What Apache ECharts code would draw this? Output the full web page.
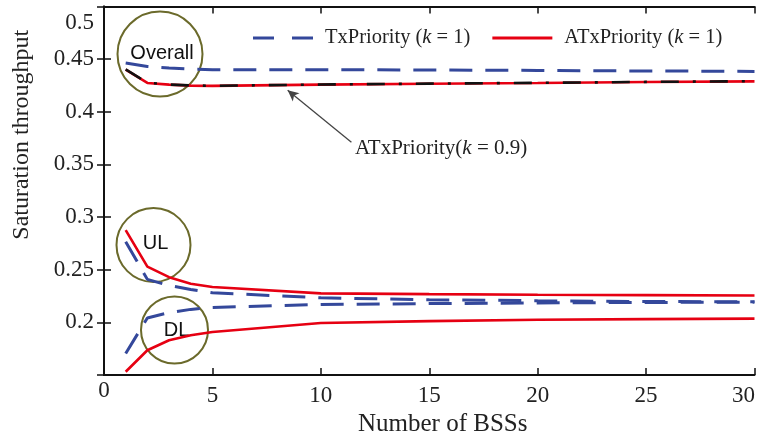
<!DOCTYPE html>
<html>
<head>
<meta charset="utf-8">
<script src="https://cdn.jsdelivr.net/npm/echarts@6/dist/echarts.min.js"></script>
<style>
  html, body { margin: 0; padding: 0; background: #fff; }
  #chart { width: 758px; height: 442px; }
</style>
</head>
<body>
<div id="chart"></div>
<script>
// number of BSSs
const xBss = [1, 2, 3, 4, 5, 10, 15, 20, 25, 30];

// TxPriority (k = 1)
const txOverall = [0.4462, 0.4430, 0.4415, 0.4405, 0.4399, 0.4399, 0.4396, 0.4392, 0.4387, 0.4383];
const txUL = [0.2766, 0.2408, 0.2350, 0.2312, 0.2281, 0.2233, 0.2215, 0.2205, 0.2198, 0.2195];
const txDL = [0.1704, 0.2042, 0.2092, 0.2123, 0.2142, 0.2170, 0.2178, 0.2184, 0.2189, 0.2192];

// ATxPriority (k = 1)
const atxOverall = [0.4399, 0.4273, 0.4257, 0.4248, 0.4245, 0.4257, 0.4266, 0.4273, 0.4282, 0.4288];
const atxUL = [0.2876, 0.2529, 0.2429, 0.2366, 0.2335, 0.2275, 0.2268, 0.2262, 0.2258, 0.2255];
const atxDL = [0.1531, 0.1735, 0.1830, 0.1877, 0.1909, 0.1994, 0.2012, 0.2024, 0.2031, 0.2035];

// ATxPriority (k = 0.9), overall only
const atx09Overall = [0.4402, 0.4276, 0.4258, 0.4249, 0.4246, 0.4258, 0.4267, 0.4274, 0.4283, 0.4290];

const xTicks = [0, 5, 10, 15, 20, 25, 30];
const yTicks = [0.2, 0.25, 0.3, 0.35, 0.4, 0.45, 0.5];

const BLUE = '#34489b';
const RED = '#e60012';
const OLIVE = '#6b6a2b';
const SERIF = '"Liberation Serif", "Times New Roman", serif';
const SANS = '"Liberation Sans", Arial, sans-serif';

const pts = arr => xBss.map((x, i) => [x, arr[i]]);

const chart = echarts.init(document.getElementById('chart'));

const blueLine = { color: BLUE, width: 3, type: [23, 13] };
const redLine = { color: RED, width: 2.6 };

function blue(data) {
  return {
    name: 'TxPriority (k = 1)', type: 'line', data: pts(data),
    symbol: 'none', lineStyle: blueLine, itemStyle: { color: BLUE }
  };
}
function red(data) {
  return {
    name: 'ATxPriority (k = 1)', type: 'line', data: pts(data),
    symbol: 'none', lineStyle: redLine, itemStyle: { color: RED }
  };
}

const option = {
  animation: false,
  grid: { left: 104, right: 2, top: 6.4, bottom: 65.5 },
  legend: {
    data: [
      { name: 'TxPriority (k = 1)', icon: 'path://M0,0H21V3H0Z M39,0H60V3H39Z' },
      { name: 'ATxPriority (k = 1)', icon: 'path://M0,0H62V3H0Z' }
    ],
    left: 253,
    top: 27,
    padding: 0,
    itemWidth: 60,
    itemHeight: 3,
    itemGap: 22,
    formatter: name => name.replace(' (k', ' ({i|k}'),
    textStyle: {
      fontFamily: SERIF, fontSize: 20.5, color: '#222', lineHeight: 22,
      padding: [0, 0, 0, 7],
      rich: { i: { fontFamily: SERIF, fontSize: 20.5, fontStyle: 'italic', color: '#222' } }
    }
  },
  xAxis: [
    {
      type: 'value', min: 0, max: 30, interval: 5,
      name: 'Number of BSSs', nameLocation: 'middle', nameGap: 37,
      nameTextStyle: { fontFamily: SERIF, fontSize: 25, color: '#222', padding: [0, 0, 0, 27] },
      axisLine: { lineStyle: { color: '#111', width: 2 } },
      axisTick: { inside: true, length: 7, lineStyle: { color: '#111', width: 1.5 } },
      splitLine: { show: false },
      axisLabel: {
        margin: 9, fontFamily: SERIF, fontSize: 23, color: '#222',
        formatter: v => v === xTicks[0] ? '{z|0}' : (v === 30 ? '{r|30}' : String(v)),
        rich: {
          z: { fontFamily: SERIF, fontSize: 23, color: '#222', lineHeight: 13 },
          r: { fontFamily: SERIF, fontSize: 23, color: '#222', padding: [0, 22, 0, 0] }
        }
      }
    },
    {
      type: 'value', min: 0, max: 30, interval: 5, position: 'top',
      axisLine: { lineStyle: { color: '#111', width: 2 } },
      axisTick: { inside: true, length: 7, lineStyle: { color: '#111', width: 1.5 } },
      axisLabel: { show: false },
      splitLine: { show: false }
    }
  ],
  yAxis: [
    {
      type: 'value', min: 0.15, max: 0.5, interval: 0.05,
      name: 'Saturation throughput', nameLocation: 'middle', nameGap: 70, nameRotate: 90,
      nameTextStyle: { fontFamily: SERIF, fontSize: 24, color: '#222', padding: [0, 0, 0, 112] },
      axisLine: { lineStyle: { color: '#111', width: 2 } },
      axisTick: { inside: true, length: 7, lineStyle: { color: '#111', width: 1.5 } },
      splitLine: { show: false },
      axisLabel: {
        margin: 10, fontFamily: SERIF, fontSize: 23, color: '#222',
        showMinLabel: false,
        formatter: v => {
          const s = String(+v.toFixed(2));
          if (Math.abs(v - yTicks[yTicks.length - 1]) < 1e-9) return '{top|' + s + '}';
          return s;
        },
        rich: {
          top: { fontFamily: SERIF, fontSize: 23, color: '#222', padding: [34, 0, 0, 0] }
        }
      }
    },
    {
      type: 'value', min: 0.15, max: 0.5, interval: 0.05, position: 'right',
      axisLine: { lineStyle: { color: '#111', width: 2 } },
      axisTick: { inside: true, length: 7, lineStyle: { color: '#111', width: 1.5 } },
      axisLabel: { show: false },
      splitLine: { show: false }
    }
  ],
  series: [
    blue(txOverall), blue(txUL), blue(txDL),
    red(atxOverall), red(atxUL), red(atxDL),
    {
      name: 'ATxPriority (k = 0.9)', type: 'line', data: pts(atx09Overall),
      symbol: 'none',
      lineStyle: { color: '#111', width: 2.6, type: [18, 14, 3, 14] },
      markLine: {
        silent: true,
        symbol: ['none', 'arrow'],
        symbolSize: [8, 11],
        label: { show: false },
        lineStyle: { color: '#444', width: 1.3, type: 'solid' },
        data: [[{ coord: [11.41, 0.3709] }, { coord: [8.47, 0.4203] }]]
      }
    }
  ],
  graphic: [
    { type: 'circle', shape: { cx: 160, cy: 54, r: 42.5 }, style: { fill: 'none', stroke: OLIVE, lineWidth: 2 } },
    { type: 'circle', shape: { cx: 153.5, cy: 245, r: 37 }, style: { fill: 'none', stroke: OLIVE, lineWidth: 2 } },
    { type: 'circle', shape: { cx: 174.5, cy: 330, r: 33.5 }, style: { fill: 'none', stroke: OLIVE, lineWidth: 2 } },
    { type: 'text', x: 162, y: 53, style: { text: 'Overall', font: '20px ' + SANS, fill: '#111', align: 'center', verticalAlign: 'middle' } },
    { type: 'text', x: 155.5, y: 243, style: { text: 'UL', font: '20px ' + SANS, fill: '#111', align: 'center', verticalAlign: 'middle' } },
    { type: 'text', x: 176.5, y: 330, style: { text: 'DL', font: '20px ' + SANS, fill: '#111', align: 'center', verticalAlign: 'middle' } },
    {
      type: 'text', x: 355, y: 148,
      style: {
        text: 'ATxPriority({i|k} = 0.9)',
        font: '21px ' + SERIF, fill: '#222', align: 'left', verticalAlign: 'middle',
        rich: { i: { font: 'italic 21px ' + SERIF, fill: '#222' } }
      }
    }
  ]
};

chart.setOption(option);
</script>
</body>
</html>
